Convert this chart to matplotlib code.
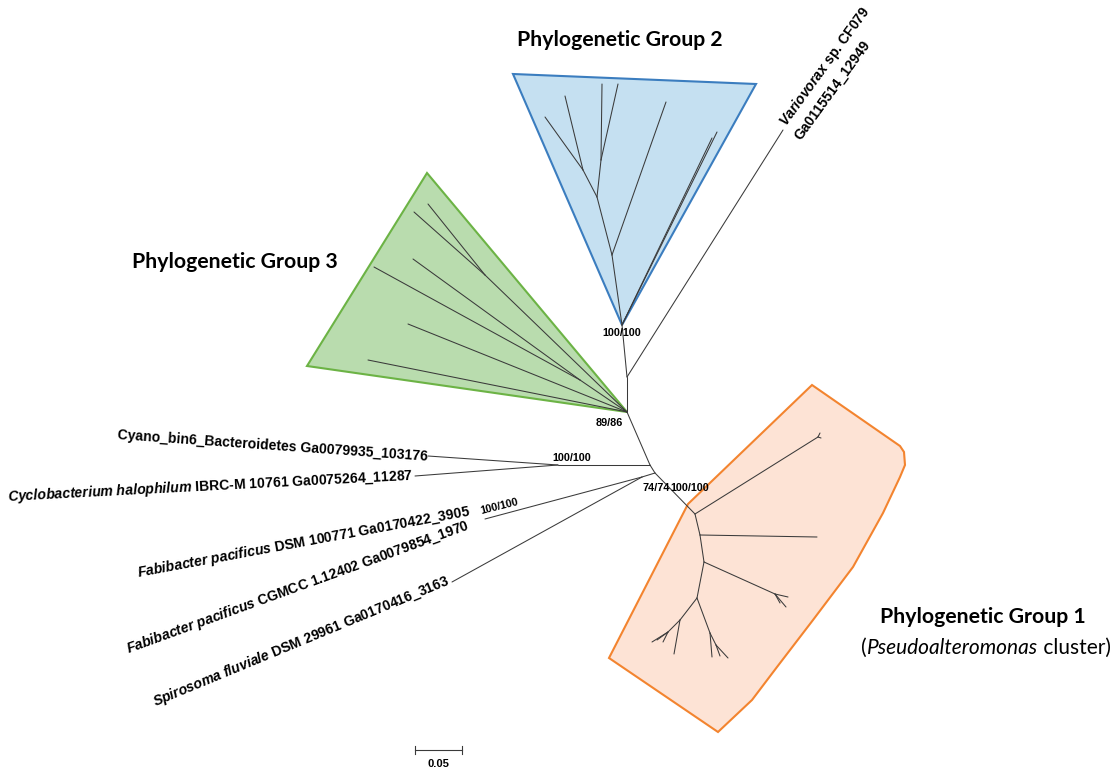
import matplotlib
matplotlib.use('Agg')
import matplotlib.pyplot as plt
from matplotlib import font_manager
from matplotlib.patches import Polygon

# narrow face for tip labels if it is there
names = set(f.name for f in font_manager.fontManager.ttflist)
NARROW = 'Liberation Sans Narrow' if 'Liberation Sans Narrow' in names else 'Liberation Sans'
TITLE = 'Lato'

plt.rcParams['mathtext.fontset'] = 'custom'
plt.rcParams['mathtext.rm'] = NARROW + ':bold'
plt.rcParams['mathtext.it'] = NARROW + ':italic:bold'
plt.rcParams['mathtext.bf'] = NARROW + ':bold'

# tree nodes (x, y) and parent index, drawing units = pixels of the page
node_x = [627, 627, 622, 783, 650, 558, 428, 415, 655, 642, 485, 452,
          612, 597, 583, 545, 565, 601, 602, 618, 666, 717, 712,
          485, 428, 414, 580, 413, 374, 408, 368,
          695, 818, 820, 821, 700, 817, 704, 775, 788, 786, 780,
          697, 680, 674, 668, 652, 663, 657, 710, 712, 716, 728, 720]
node_y = [412, 377, 325, 130, 465, 465, 456, 476, 473, 477, 519, 582,
          255, 197, 170, 117, 96, 160, 84, 84, 102, 132, 138,
          275, 204, 212, 380, 259, 267, 324, 360,
          514, 437, 433, 438, 535, 537, 562, 594, 597, 607, 603,
          598, 620, 654, 632, 642, 642, 640, 633, 657, 645, 658, 656]
parent = [-1, 0, 1, 1, 0, 4, 5, 5, 4, 8, 9, 9,
          2, 12, 13, 14, 14, 13, 17, 17, 12, 2, 2,
          0, 23, 23, 0, 26, 26, 0, 0,
          8, 31, 32, 32, 31, 35, 35, 37, 38, 38, 38,
          37, 42, 43, 43, 45, 45, 45, 42, 49, 49, 51, 51]

# collapsed clades
blue_x = [513, 756, 622]
blue_y = [74, 84, 325]
green_x = [427, 307, 627]
green_y = [173, 366, 412]
orange_x = [688, 812, 900, 904, 905, 900, 883, 853, 813, 777, 752, 718, 609]
orange_y = [504, 385, 446, 452, 465, 477, 513, 567, 620, 667, 700, 732, 658]

# tip labels: text, anchor x, anchor y, angle
tip_text = [r'Cyano_bin6_Bacteroidetes Ga0079935_103176',
            r'$\mathit{Cyclobacterium}$ $\mathit{halophilum}$ IBRC-M 10761 Ga0075264_11287',
            r'$\mathit{Fabibacter}$ $\mathit{pacificus}$ DSM 100771 Ga0170422_3905',
            r'$\mathit{Fabibacter}$ $\mathit{pacificus}$ CGMCC 1.12402 Ga0079854_1970',
            r'$\mathit{Spirosoma}$ $\mathit{fluviale}$ DSM 29961 Ga0170416_3163']
tip_x = [427, 413, 471, 470, 451]
tip_y = [461, 480, 515, 529, 584]
tip_rot = [-4, 3, 10.5, 20, 22.5]

# bootstrap values
boot_text = ['100/100', '89/86', '100/100', '74/74', '100/100', '100/100']
boot_x = [622, 609, 572, 656, 690, 499]
boot_y = [333, 423, 458, 488, 488, 506]
boot_rot = [0, 0, 0, 0, 0, 14]

fig = plt.figure(figsize=(11.17, 7.69), dpi=100)
ax = fig.add_axes([0, 0, 1, 1])
ax.set_xlim(0, 1117)
ax.set_ylim(769, 0)
ax.axis('off')

ax.add_patch(Polygon(list(zip(blue_x, blue_y)), closed=True, fc='#c5e0f1',
                     ec='#3b7dbf', lw=1.5, zorder=1))
ax.add_patch(Polygon(list(zip(green_x, green_y)), closed=True, fc='#b9dcae',
                     ec='#6cb345', lw=1.5, zorder=1))
ax.add_patch(Polygon(list(zip(orange_x, orange_y)), closed=True, fc='#fde3d5',
                     ec='#f3842f', lw=1.5, zorder=1))

for i, p in enumerate(parent):
    if p < 0:
        continue
    ax.plot([node_x[p], node_x[i]], [node_y[p], node_y[i]], color='#3a3a3a',
            lw=0.75, solid_capstyle='round', zorder=2)

for t, x, y, r in zip(tip_text, tip_x, tip_y, tip_rot):
    ax.text(x, y, t, family=NARROW, fontweight='bold', fontsize=10.1,
            rotation=r, rotation_mode='anchor', ha='right', va='baseline')

for t, x, y, r in zip(boot_text, boot_x, boot_y, boot_rot):
    ax.text(x, y, t, family=NARROW, fontweight='bold', fontsize=7.8,
            rotation=r, rotation_mode='anchor', ha='center', va='center')

# Variovorax tip, label runs along the branch
ax.text(786, 127, r'$\mathit{Variovorax}$ sp. CF079', family=NARROW,
        fontweight='bold', fontsize=10.1, rotation=54, rotation_mode='anchor',
        ha='left', va='baseline')
ax.text(801, 141, 'Ga0115514_12949', family=NARROW, fontweight='bold',
        fontsize=10.1, rotation=54, rotation_mode='anchor', ha='left', va='baseline')

ax.text(620, 40, 'Phylogenetic Group 2', family=TITLE, fontweight='bold',
        fontsize=15.3, ha='center', va='center')
ax.text(235, 262, 'Phylogenetic Group 3', family=TITLE, fontweight='bold',
        fontsize=15.3, ha='center', va='center')
ax.text(983, 617, 'Phylogenetic Group 1', family=TITLE, fontweight='bold',
        fontsize=15.3, ha='center', va='center')

# subtitle with italic genus, pieces laid side by side
r = fig.canvas.get_renderer()
parts = [('(', 'normal'), ('Pseudoalteromonas', 'italic'), (' cluster)', 'normal')]
x0 = 861
for s, st in parts:
    t = ax.text(x0, 648, s, family=TITLE, style=st, fontsize=15, ha='left', va='center')
    bb = t.get_window_extent(renderer=r)
    x0 += bb.width

# scale bar
sb_x = [415, 462]
ax.plot(sb_x, [750, 750], color='#3a3a3a', lw=0.8)
for xx in sb_x:
    ax.plot([xx, xx], [746, 754], color='#3a3a3a', lw=0.8)
ax.text(sum(sb_x) / 2, 764, '0.05', family=NARROW, fontweight='bold', fontsize=8,
        ha='center', va='center')

fig.savefig('out.png', dpi=100)
